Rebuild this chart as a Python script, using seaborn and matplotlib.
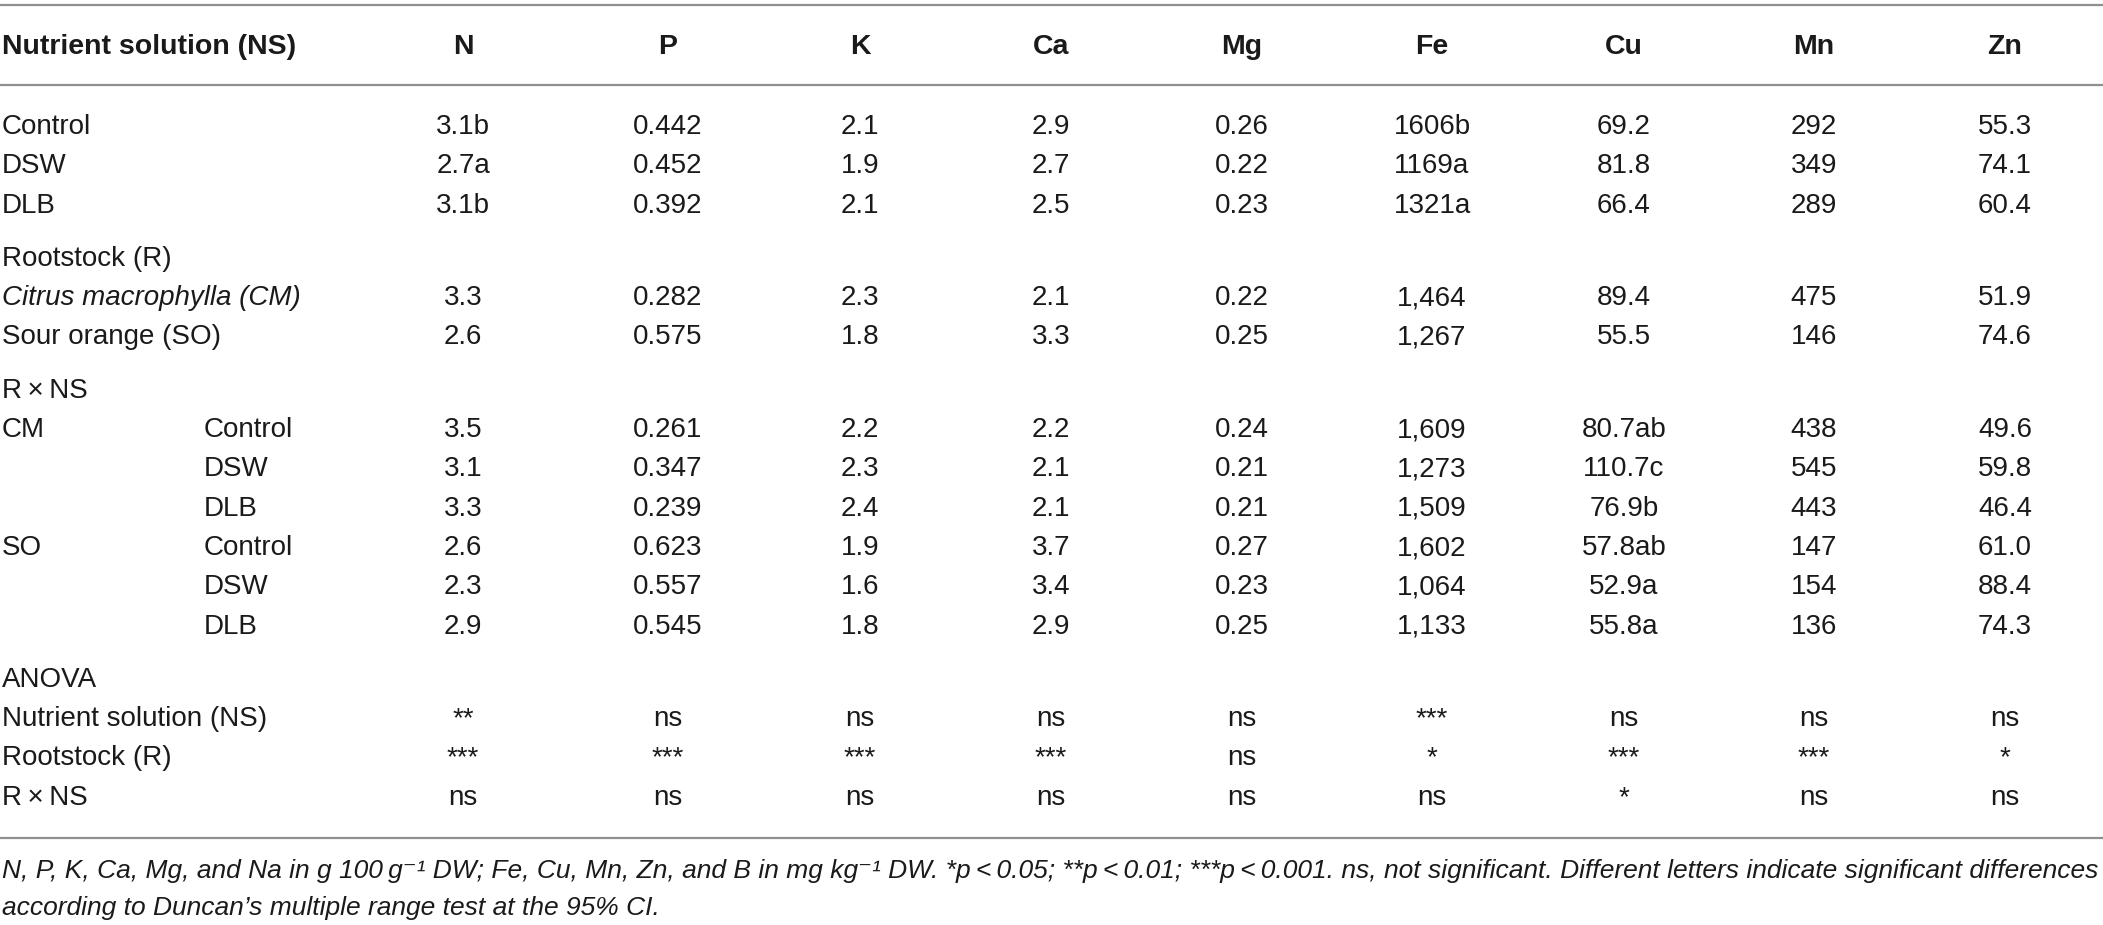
import numpy as np
import pandas as pd
import matplotlib.pyplot as plt
import seaborn as sns

sns.set_theme(style='white')
plt.rcParams['font.family'] = ['Liberation Sans', 'DejaVu Sans']  # fallback for superscripts

# Table data
elements = ['N', 'P', 'K', 'Ca', 'Mg', 'Fe', 'Cu', 'Mn', 'Zn']
ns_labels = ['Control', 'DSW', 'DLB']
rootstock_labels = ['Citrus macrophylla (CM)', 'Sour orange (SO)']
rxns_groups = ['CM', 'SO']
anova_labels = ['Nutrient solution (NS)', 'Rootstock (R)', 'R\u2009\u00d7\u2009NS']

ns_values = [
    ['3.1b', '0.442', '2.1', '2.9', '0.26', '1606b', '69.2', '292', '55.3'],
    ['2.7a', '0.452', '1.9', '2.7', '0.22', '1169a', '81.8', '349', '74.1'],
    ['3.1b', '0.392', '2.1', '2.5', '0.23', '1321a', '66.4', '289', '60.4'],
]
rootstock_values = [
    ['3.3', '0.282', '2.3', '2.1', '0.22', '1,464', '89.4', '475', '51.9'],
    ['2.6', '0.575', '1.8', '3.3', '0.25', '1,267', '55.5', '146', '74.6'],
]
rxns_values = [
    ['3.5', '0.261', '2.2', '2.2', '0.24', '1,609', '80.7ab', '438', '49.6'],
    ['3.1', '0.347', '2.3', '2.1', '0.21', '1,273', '110.7c', '545', '59.8'],
    ['3.3', '0.239', '2.4', '2.1', '0.21', '1,509', '76.9b', '443', '46.4'],
    ['2.6', '0.623', '1.9', '3.7', '0.27', '1,602', '57.8ab', '147', '61.0'],
    ['2.3', '0.557', '1.6', '3.4', '0.23', '1,064', '52.9a', '154', '88.4'],
    ['2.9', '0.545', '1.8', '2.9', '0.25', '1,133', '55.8a', '136', '74.3'],
]
anova_values = [
    ['**', 'ns', 'ns', 'ns', 'ns', '***', 'ns', 'ns', 'ns'],
    ['***', '***', '***', '***', 'ns', '*', '***', '***', '*'],
    ['ns', 'ns', 'ns', 'ns', 'ns', 'ns', '*', 'ns', 'ns'],
]

footnote = [
    'N, P, K, Ca, Mg, and Na in g 100\u2009g\u207b\u00b9 DW; Fe, Cu, Mn, Zn, and B in mg kg\u207b\u00b9 DW. '
    '*p\u2009<\u20090.05; **p\u2009<\u20090.01; ***p\u2009<\u20090.001. ns, not significant. '
    'Different letters indicate significant differences',
    'according to Duncan\u2019s multiple range test at the 95% CI.',
]

# Build one long table: (label, sublabel, values, style)
rows = []
for lab, vals in zip(ns_labels, ns_values):
    rows.append((lab, '', vals, 'normal'))
rows.append(('Rootstock (R)', '', None, 'normal'))
for lab, vals in zip(rootstock_labels, rootstock_values):
    rows.append((lab, '', vals, 'italic' if lab.startswith('Citrus') else 'normal'))
rows.append(('R\u2009\u00d7\u2009NS', '', None, 'normal'))
for i, vals in enumerate(rxns_values):
    grp = rxns_groups[i // 3] if i % 3 == 0 else ''
    rows.append((grp, ns_labels[i % 3], vals, 'normal'))
rows.append(('ANOVA', '', None, 'normal'))
for lab, vals in zip(anova_labels, anova_values):
    rows.append((lab, '', vals, 'normal'))

df = pd.DataFrame(rows, columns=['label', 'sub', 'values', 'style'])

# Layout (pixels)
W, H = 2103, 925
col_x = [463, 668, 860, 1051, 1242, 1432, 1624, 1814, 2005]
sub_x = 204
step = 39.3
section_gap = 14
first_y = 127
header_y = 47
line_col = '#8f8f8f'
txt_col = '#1a1a1a'
fs = 20

fig = plt.figure(figsize=(W / 100, H / 100), dpi=100)
ax = fig.add_axes([0, 0, 1, 1])
ax.set_xlim(0, W)
ax.set_ylim(H, 0)
ax.axis('off')

# Rules
for yy in [5, 85]:
    ax.axhline(yy, color=line_col, lw=1.6)

# Header
ax.text(2, header_y, 'Nutrient solution (NS)', fontsize=20.5, fontweight='bold', color=txt_col,
        ha='left', va='center')
for x, el in zip(col_x, elements):
    ax.text(x, header_y, el, fontsize=20.5, fontweight='bold', color=txt_col,
            ha='center', va='center')

# Body
y = first_y
last_y = y
for i, r in df.iterrows():
    if r['values'] is None and i > 0:
        y += section_gap
    ax.text(2, y, r['label'], fontsize=fs, style=r['style'], color=txt_col, ha='left', va='center')
    if r['sub']:
        ax.text(sub_x, y, r['sub'], fontsize=fs, color=txt_col, ha='left', va='center')
    if r['values'] is not None:
        for x, v in zip(col_x, r['values']):
            ax.text(x, y, v, fontsize=fs, color=txt_col, ha='center', va='center')
    last_y = y
    y += step

bottom_rule = last_y + 40
ax.axhline(bottom_rule, color=line_col, lw=1.6)

ax.text(2, bottom_rule + 33, footnote[0], fontsize=19, style='italic', color=txt_col,
        ha='left', va='center')
ax.text(2, bottom_rule + 70, footnote[1], fontsize=19, style='italic', color=txt_col,
        ha='left', va='center')

fig.savefig('out.png', dpi=100)
